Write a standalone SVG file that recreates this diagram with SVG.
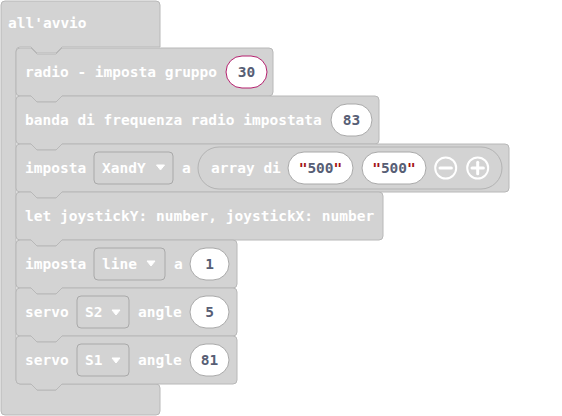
<svg xmlns="http://www.w3.org/2000/svg" width="562" height="416" viewBox="0 0 562 416">
<style>
.blk{fill:#d3d3d3;stroke:#b8b8b8;stroke-width:1}
.t{font-family:"DejaVu Sans Mono","Liberation Mono",monospace;font-weight:bold;font-size:14.5px;fill:#ffffff}
.v{font-family:"DejaVu Sans Mono","Liberation Mono",monospace;font-weight:bold;font-size:14.5px;fill:#575e75;text-anchor:middle}
.pill{fill:#ffffff;stroke:#a9a9a9;stroke-width:1}
.dd{fill:#d3d3d3;stroke:#a9a9a9;stroke-width:1}
.tri{fill:#ffffff;stroke:#ffffff;stroke-width:1;stroke-linejoin:round}
.q{fill:#a31515}
.btn{fill:none;stroke:#ffffff;stroke-width:2}
.bar{stroke:#ffffff;stroke-width:3;stroke-linecap:round}
</style>
<rect width="562" height="416" fill="#ffffff"/>
<g id="connectors"/>
<g id="all-avvio">
<path class="blk" d="M1,5 a4,4 0 0 1 4,-4 H156 a4,4 0 0 1 4,4 V47 H62 l-6,6 H37 l-6,-6 H20 a4,4 0 0 0 -4,4 V380 a4,4 0 0 0 4,4 H31 l6,6 H56 l6,-6 H156 a4,4 0 0 1 4,4 V411 a4,4 0 0 1 -4,4 H5 a4,4 0 0 1 -4,-4 Z"/>
<text class="t" x="8" y="28">all'avvio</text>
</g>
<g id="radio-gruppo">
<path class="blk" d="M16,52 a4,4 0 0 1 4,-4 H31 l6,6 H56 l6,-6 H269 a4,4 0 0 1 4,4 V92 a4,4 0 0 1 -4,4 H62 l-6,6 H37 l-6,-6 H20 a4,4 0 0 1 -4,-4 Z"/>
<text class="t" x="25" y="77">radio - imposta gruppo</text>
<rect x="226" y="56" width="41" height="32" rx="16" fill="#ffffff" stroke="#b5206e" stroke-width="1"/>
<text class="v" x="246.5" y="77">30</text>
</g>
<g id="banda-frequenza">
<path class="blk" d="M16,100 a4,4 0 0 1 4,-4 H31 l6,6 H56 l6,-6 H375 a4,4 0 0 1 4,4 V140 a4,4 0 0 1 -4,4 H62 l-6,6 H37 l-6,-6 H20 a4,4 0 0 1 -4,-4 Z"/>
<text class="t" x="25" y="125">banda di frequenza radio impostata</text>
<rect class="pill" x="331" y="104" width="41" height="32" rx="16"/>
<text class="v" x="351.5" y="125">83</text>
</g>
<g id="imposta-xandy">
<path class="blk" d="M16,148 a4,4 0 0 1 4,-4 H31 l6,6 H56 l6,-6 H505 a4,4 0 0 1 4,4 V188 a4,4 0 0 1 -4,4 H62 l-6,6 H37 l-6,-6 H20 a4,4 0 0 1 -4,-4 Z"/>
<text class="t" x="25" y="173">imposta</text>
<rect class="dd" x="94" y="152" width="79" height="32" rx="4"/>
<text class="t" x="102" y="173">XandY</text>
<path class="tri" d="M156.5,165 H164.5 L160.5,170 Z"/>
<text class="t" x="182" y="173">a</text>
<g id="array-di">
<rect x="198" y="147" width="304" height="42" rx="21" fill="#d3d3d3" stroke="#b3b3b3" stroke-width="1"/>
<text class="t" x="211" y="173">array di</text>
<rect class="pill" x="288" y="152" width="65" height="32" rx="16"/>
<text class="v" x="320.5" y="173"><tspan class="q">"</tspan>500<tspan class="q">"</tspan></text>
<rect class="pill" x="362" y="152" width="64" height="32" rx="16"/>
<text class="v" x="394" y="173"><tspan class="q">"</tspan>500<tspan class="q">"</tspan></text>
<circle class="btn" cx="445.7" cy="168" r="10.5"/>
<line class="bar" x1="440" y1="168" x2="451.4" y2="168"/>
<circle class="btn" cx="477.7" cy="168" r="10.5"/>
<line class="bar" x1="472" y1="168" x2="483.4" y2="168"/>
<line class="bar" x1="477.7" y1="162.3" x2="477.7" y2="173.7"/>
</g>
</g>
<g id="let-joystick">
<path class="blk" d="M16,196 a4,4 0 0 1 4,-4 H31 l6,6 H56 l6,-6 H379 a4,4 0 0 1 4,4 V236 a4,4 0 0 1 -4,4 H62 l-6,6 H37 l-6,-6 H20 a4,4 0 0 1 -4,-4 Z"/>
<text class="t" x="25" y="221">let joystickY: number, joystickX: number</text>
</g>
<g id="imposta-line">
<path class="blk" d="M16,244 a4,4 0 0 1 4,-4 H31 l6,6 H56 l6,-6 H233 a4,4 0 0 1 4,4 V284 a4,4 0 0 1 -4,4 H62 l-6,6 H37 l-6,-6 H20 a4,4 0 0 1 -4,-4 Z"/>
<text class="t" x="25" y="269">imposta</text>
<rect class="dd" x="94" y="248" width="71" height="32" rx="4"/>
<text class="t" x="102" y="269">line</text>
<path class="tri" d="M147,261 H155 L151,266 Z"/>
<text class="t" x="174" y="269">a</text>
<rect class="pill" x="190" y="248" width="39" height="32" rx="16"/>
<text class="v" x="209.5" y="269">1</text>
</g>
<g id="servo-s2">
<path class="blk" d="M16,292 a4,4 0 0 1 4,-4 H31 l6,6 H56 l6,-6 H233 a4,4 0 0 1 4,4 V332 a4,4 0 0 1 -4,4 H62 l-6,6 H37 l-6,-6 H20 a4,4 0 0 1 -4,-4 Z"/>
<text class="t" x="25" y="317">servo</text>
<rect class="dd" x="77" y="296" width="52" height="32" rx="4"/>
<text class="t" x="85" y="317">S2</text>
<path class="tri" d="M112,310 H120 L116,315 Z"/>
<text class="t" x="138" y="317">angle</text>
<rect class="pill" x="190" y="296" width="39" height="32" rx="16"/>
<text class="v" x="209.5" y="317">5</text>
</g>
<g id="servo-s1">
<path class="blk" d="M16,340 a4,4 0 0 1 4,-4 H31 l6,6 H56 l6,-6 H233 a4,4 0 0 1 4,4 V380 a4,4 0 0 1 -4,4 H62 l-6,6 H37 l-6,-6 H20 a4,4 0 0 1 -4,-4 Z"/>
<text class="t" x="25" y="365">servo</text>
<rect class="dd" x="77" y="344" width="52" height="32" rx="4"/>
<text class="t" x="85" y="365">S1</text>
<path class="tri" d="M112,358 H120 L116,363 Z"/>
<text class="t" x="138" y="365">angle</text>
<rect class="pill" x="190" y="344" width="39" height="32" rx="16"/>
<text class="v" x="209.5" y="365">81</text>
</g>
</svg>
